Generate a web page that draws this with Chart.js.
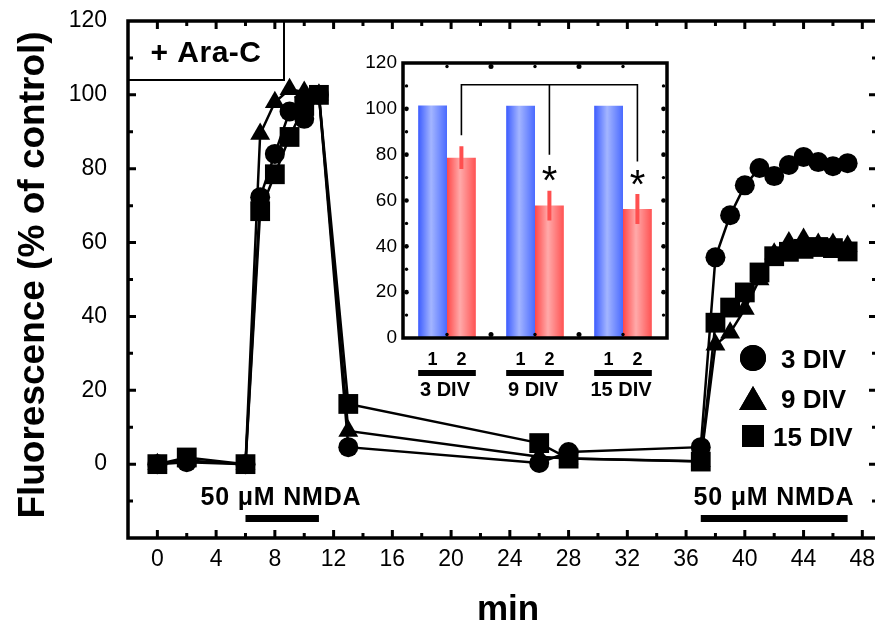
<!DOCTYPE html>
<html>
<head>
<meta charset="utf-8">
<title>Fluorescence + Ara-C</title>
<script src="https://cdn.jsdelivr.net/npm/chart.js@4.4.0/dist/chart.umd.min.js"></script>
<style>
  html, body { margin: 0; padding: 0; overflow: hidden; background: #fff; }
  #wrap { position: relative; width: 891px; height: 625px; }
  #main { position: absolute; left: 0; top: 0; }
  #inset { position: absolute; left: 355px; top: 40px; }
</style>
</head>
<body>
<div id="wrap">
  <canvas id="main" width="891" height="625"></canvas>
  <canvas id="inset" width="320" height="370"></canvas>
</div>
<script>
var FONT = '"Liberation Sans", Arial, Helvetica, sans-serif';

// main time course (min)
var minutes = [0, 2, 6, 7, 8, 9, 10, 11, 13, 26, 28, 37, 38, 39, 40, 41, 42, 43, 44, 45, 46, 47];
var div3 = [0, 0.5, 0, 72.3, 84, 95.5, 93.5, 100, 4.6, 0.3, 3.3, 4.6, 56, 67.4, 75.5, 80.2, 78, 81, 83.2, 81.8, 80.7, 81.5];
var div9 = [0, 1, 0, 89.4, 98, 101.5, 100.8, 100, 9, 2, 1.5, 0.8, 32.3, 35.6, 42, 50, 57, 60, 61, 59.6, 59.6, 59.1];
var div15 = [0, 1.8, 0, 68.5, 78.5, 88.6, 97, 100, 16.3, 5.7, 1.5, 0.7, 38.3, 42.4, 46.5, 51.9, 56.3, 57.5, 58.3, 58.8, 58.5, 57.6];
var seriesNames = ["3 DIV", "9 DIV", "15 DIV"];
var xTickVals = [0, 4, 8, 12, 16, 20, 24, 28, 32, 36, 40, 44, 48];
var yTickVals = [0, 20, 40, 60, 80, 100, 120];
var nmdaStart = [6, 37];
var nmdaEnd = [11, 47];

// inset bars
var insetGroups = ["3 DIV", "9 DIV", "15 DIV"];
var insetBarNames = ["1", "2"];
var insetBar1 = [101.5, 101.3, 101.3];
var insetBar2 = [78.7, 57.8, 56.3];
var insetErr2 = [5, 6.5, 6.5];
var insetYTickVals = [0, 20, 40, 60, 80, 100, 120];

function toPoints(vals) {
  return vals.map(function (v, i) { return { x: minutes[i], y: v }; });
}

function series(label, vals, style, radius) {
  return {
    label: label,
    data: toPoints(vals),
    borderColor: "#000",
    backgroundColor: "#000",
    borderWidth: 2.5,
    pointStyle: style,
    pointRadius: radius,
    pointHoverRadius: radius,
    pointBackgroundColor: "#000",
    pointBorderColor: "#000",
    pointBorderWidth: 0,
    tension: 0,
    fill: false
  };
}

function noScalePadding(s) {
  s.paddingLeft = 0; s.paddingRight = 0; s.paddingTop = 0; s.paddingBottom = 0;
}

var mainDecor = {
  id: "mainDecor",
  afterDraw: function (chart) {
    var ctx = chart.ctx, a = chart.chartArea;
    var xs = chart.scales.x, ys = chart.scales.y;
    ctx.save();
    ctx.strokeStyle = "#000";
    ctx.fillStyle = "#000";

    // frame
    ctx.lineWidth = 3.5;
    ctx.strokeRect(a.left, a.top, a.right - a.left, a.bottom - a.top);

    // inward ticks
    ctx.lineWidth = 3;
    ctx.beginPath();
    for (var t = 0; t <= 48; t += 2) {
      var px = xs.getPixelForValue(t);
      var len = t % 4 === 0 ? 8 : 5;
      ctx.moveTo(px, a.bottom); ctx.lineTo(px, a.bottom - len);
      ctx.moveTo(px, a.top); ctx.lineTo(px, a.top + len);
    }
    for (var v = -10; v < 120; v += 10) {
      var py = ys.getPixelForValue(v);
      var l2 = v % 20 === 0 ? 8 : 5;
      ctx.moveTo(a.left, py); ctx.lineTo(a.left + l2, py);
      ctx.moveTo(a.right, py); ctx.lineTo(a.right - l2, py);
    }
    ctx.stroke();

    // + Ara-C box
    ctx.lineWidth = 2;
    ctx.strokeRect(a.left, a.top, 284 - a.left, 80 - a.top);
    ctx.font = "bold 30px " + FONT;
    ctx.letterSpacing = "0.5px";
    ctx.textAlign = "center";
    ctx.textBaseline = "alphabetic";
    ctx.fillText("+ Ara-C", 206, 62);

    // NMDA labels and bars
    ctx.font = "bold 25px " + FONT;
    ctx.letterSpacing = "0.8px";
    for (var i = 0; i < nmdaStart.length; i++) {
      var x0 = xs.getPixelForValue(nmdaStart[i]);
      var x1 = xs.getPixelForValue(nmdaEnd[i]);
      ctx.fillRect(x0, 515, x1 - x0, 7);
      ctx.fillText("50 \u03bcM NMDA", i === 0 ? 281 : 774, 505);
    }
    ctx.letterSpacing = "0px";

    // legend
    var legY = [358, 398, 436];
    var legStyle = ["circle", "triangle", "rect"];
    var legR = [13, 16, 15.5];
    var legTextX = [781, 781, 773];
    for (var k = 0; k < 3; k++) {
      Chart.helpers.drawPoint(ctx, { pointStyle: legStyle[k], radius: legR[k], rotation: 0, borderWidth: 0 }, 753, legY[k] + (k === 1 ? 4 : 0));
      ctx.fill();
      ctx.font = "bold 26px " + FONT;
      ctx.textAlign = "left";
      ctx.textBaseline = "alphabetic";
      ctx.fillText(seriesNames[k], legTextX[k], legY[k] + 10);
    }

    // axis titles
    ctx.font = "bold 37px " + FONT;
    ctx.textAlign = "center";
    ctx.textBaseline = "middle";
    ctx.save();
    ctx.translate(34, 275);
    ctx.rotate(-Math.PI / 2);
    ctx.fillText("Fluorescence (% of control)", 0, 0);
    ctx.restore();
    ctx.font = "bold 35px " + FONT;
    ctx.textBaseline = "alphabetic";
    ctx.fillText("min", 508, 620);
    ctx.restore();
  }
};

new Chart(document.getElementById("main").getContext("2d"), {
  type: "line",
  data: {
    datasets: [
      series(seriesNames[0], div3, "circle", 10),
      series(seriesNames[1], div9, "triangle", 11.5),
      series(seriesNames[2], div15, "rect", 14)
    ]
  },
  options: {
    responsive: false,
    animation: false,
    layout: { padding: { left: 0, top: 21, right: 3, bottom: 0 } },
    plugins: { legend: { display: false }, tooltip: { enabled: false } },
    scales: {
      x: {
        type: "linear",
        min: -2,
        max: 49,
        grid: { display: false, drawTicks: false },
        border: { display: false },
        ticks: { font: { family: FONT, size: 23 }, color: "#000", padding: 8, maxRotation: 0, autoSkip: false },
        afterBuildTicks: function (s) { s.ticks = xTickVals.map(function (v) { return { value: v }; }); },
        afterFit: function (s) { s.height = 87; noScalePadding(s); }
      },
      y: {
        min: -20,
        max: 120,
        grid: { display: false, drawTicks: false },
        border: { display: false },
        ticks: { font: { family: FONT, size: 23 }, color: "#000", padding: 21 },
        afterBuildTicks: function (s) { s.ticks = yTickVals.map(function (v) { return { value: v }; }); },
        afterFit: function (s) { s.width = 128; noScalePadding(s); }
      }
    }
  },
  plugins: [mainDecor]
});

// ---------- inset ----------
var CAT_PCT = 0.655;

function barGradient(stops) {
  return function (c) {
    var chart = c.chart, xs = chart.scales.x;
    if (!xs || c.type !== "data") return stops[1];
    var bw = xs.width / insetGroups.length * CAT_PCT / 2;
    var center = xs.getPixelForValue(c.dataIndex);
    var left = c.datasetIndex === 0 ? center - bw : center;
    if (!isFinite(left) || !isFinite(bw) || bw <= 0) return stops[1];
    var g = chart.ctx.createLinearGradient(left, 0, left + bw, 0);
    g.addColorStop(0, stops[0]);
    g.addColorStop(0.45, stops[1]);
    g.addColorStop(1, stops[2]);
    return g;
  };
}

var insetDecor = {
  id: "insetDecor",
  afterDraw: function (chart) {
    var ctx = chart.ctx, a = chart.chartArea;
    var xs = chart.scales.x, ys = chart.scales.y;
    var bw = xs.width / insetGroups.length * CAT_PCT / 2;
    ctx.save();

    // error bars
    ctx.strokeStyle = "#ff4f4f";
    ctx.lineWidth = 4;
    ctx.beginPath();
    for (var i = 0; i < insetBar2.length; i++) {
      var cx = xs.getPixelForValue(i) + bw / 2;
      ctx.moveTo(cx, ys.getPixelForValue(insetBar2[i] + insetErr2[i]));
      ctx.lineTo(cx, ys.getPixelForValue(insetBar2[i] - insetErr2[i]));
    }
    ctx.stroke();

    // frame
    ctx.strokeStyle = "#000";
    ctx.fillStyle = "#000";
    ctx.lineWidth = 3.5;
    ctx.strokeRect(a.left, a.top, a.right - a.left, a.bottom - a.top);

    // dot ticks
    for (var v = 10; v < 120; v += 10) {
      var py = ys.getPixelForValue(v);
      var r = v % 20 === 0 ? 2.3 : 1.7;
      ctx.beginPath(); ctx.arc(a.left + 3.5, py, r, 0, Math.PI * 2); ctx.fill();
      ctx.beginPath(); ctx.arc(a.right - 3.5, py, r, 0, Math.PI * 2); ctx.fill();
    }
    var catW = xs.width / insetGroups.length;
    for (var j = 0; j < insetGroups.length; j++) {
      var c0 = xs.getPixelForValue(j);
      var pos = [c0];
      if (j > 0) pos.push(c0 - catW / 2);
      pos.forEach(function (px, n) {
        var rr = n === 0 ? 1.7 : 2.5;
        ctx.beginPath(); ctx.arc(px, a.top + 3.5, rr, 0, Math.PI * 2); ctx.fill();
        ctx.beginPath(); ctx.arc(px, a.bottom - 3.5, rr, 0, Math.PI * 2); ctx.fill();
      });
    }

    // significance bracket
    var redX = insetGroups.map(function (g, k) { return xs.getPixelForValue(k) + bw / 2; });
    var topY = ys.getPixelForValue(110.5);
    ctx.lineWidth = 1.6;
    ctx.beginPath();
    ctx.moveTo(redX[0], ys.getPixelForValue(88.5));
    ctx.lineTo(redX[0], topY);
    ctx.lineTo(redX[2], topY);
    ctx.lineTo(redX[2], ys.getPixelForValue(77));
    ctx.moveTo(redX[1], topY);
    ctx.lineTo(redX[1], ys.getPixelForValue(80));
    ctx.stroke();
    ctx.font = "40px " + FONT;
    ctx.textAlign = "center";
    ctx.textBaseline = "alphabetic";
    ctx.fillText("*", redX[1], ys.getPixelForValue(72.5) + 22);
    ctx.fillText("*", redX[2], ys.getPixelForValue(70.7) + 22);

    // group labels
    for (var k = 0; k < insetGroups.length; k++) {
      var cc = xs.getPixelForValue(k);
      ctx.font = "bold 18px " + FONT;
      ctx.textBaseline = "middle";
      ctx.fillText(insetBarNames[0], cc - bw / 2, 320);
      ctx.fillText(insetBarNames[1], cc + bw / 2, 320);
      ctx.fillRect(cc - bw, 330, bw * 2, 6);
      ctx.font = "bold 20px " + FONT;
      ctx.fillText(insetGroups[k], cc - 2, 350);
    }
    ctx.restore();
  }
};

new Chart(document.getElementById("inset").getContext("2d"), {
  type: "bar",
  data: {
    labels: insetGroups,
    datasets: [
      { label: insetBarNames[0], data: insetBar1, backgroundColor: barGradient(["#3c5cff", "#a3b5ff", "#4a6aff"]), borderWidth: 0 },
      { label: insetBarNames[1], data: insetBar2, backgroundColor: barGradient(["#ff4747", "#ffaaaa", "#ff5252"]), borderWidth: 0 }
    ]
  },
  options: {
    responsive: false,
    animation: false,
    categoryPercentage: CAT_PCT,
    barPercentage: 1,
    layout: { padding: { left: 0, top: 23, right: 8, bottom: 0 } },
    plugins: { legend: { display: false }, tooltip: { enabled: false } },
    scales: {
      x: {
        grid: { display: false, drawTicks: false },
        border: { display: false },
        ticks: { display: false },
        afterFit: function (s) { s.height = 72; noScalePadding(s); }
      },
      y: {
        min: 0,
        max: 120,
        grid: { display: false, drawTicks: false },
        border: { display: false },
        ticks: { font: { family: FONT, size: 19 }, color: "#000", padding: 6 },
        afterBuildTicks: function (s) { s.ticks = insetYTickVals.map(function (v) { return { value: v }; }); },
        afterFit: function (s) { s.width = 48; noScalePadding(s); }
      }
    }
  },
  plugins: [insetDecor]
});
</script>
</body>
</html>
